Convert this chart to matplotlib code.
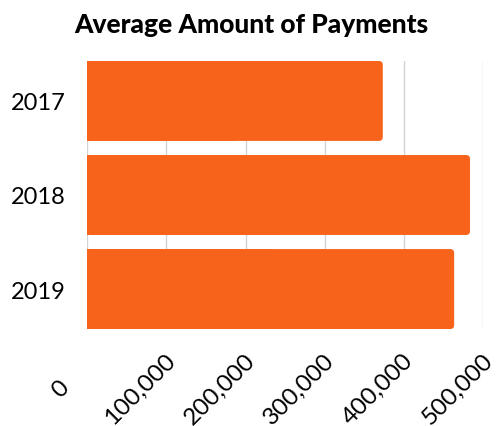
import matplotlib.pyplot as plt
from matplotlib.patches import FancyBboxPatch
from matplotlib.transforms import ScaledTranslation

years = ['2017', '2018', '2019']
payments = [373000, 483000, 463000]
ticks = [0, 100000, 200000, 300000, 400000, 500000]
tick_labels = ['0', '100,000', '200,000', '300,000', '400,000', '500,000']

color = '#F7631A'
plt.rcParams['font.family'] = ['Lato', 'DejaVu Sans']

fig = plt.figure(figsize=(5.02, 4.27), dpi=100)
ax = fig.add_axes([87 / 502, 1 - 330 / 427, (483.5 - 87) / 502, (330 - 62) / 427])

pos = list(range(len(years)))
h = 0.85
# square left part, rounded right end
ax.barh(pos, [v / 2 for v in payments], height=h, color=color, zorder=3)
for y, v in zip(pos, payments):
    ax.add_patch(FancyBboxPatch((0, y - h / 2), v, h,
                                boxstyle='round,pad=0,rounding_size=5000',
                                mutation_aspect=8.5e-6, fc=color, ec='none', zorder=3))

ax.set_xlim(0, 500000)
ax.set_ylim(len(years) - 1 + h / 2, -h / 2)
ax.set_yticks(pos)
ax.set_yticklabels(years, fontsize=17)
ax.set_xticks(ticks)
ax.set_xticklabels(tick_labels, fontsize=17.5, rotation=45, ha='center', va='center',
                   rotation_mode='anchor')
ax.tick_params(length=0, pad=15.5)
ax.tick_params(axis='x', pad=43)
shift = ScaledTranslation(-26 / 100, 0, fig.dpi_scale_trans)
for lab in ax.get_xticklabels():
    lab.set_transform(lab.get_transform() + shift)
ax.grid(axis='x', color='#d3d3d3', lw=1, zorder=0)
for s in ax.spines.values():
    s.set_visible(False)

fig.text(0.5, 1 - 25 / 427, 'Average Amount of Payments', ha='center', va='center',
         fontsize=19, fontweight='black')

fig.savefig('out.png', dpi=100)
